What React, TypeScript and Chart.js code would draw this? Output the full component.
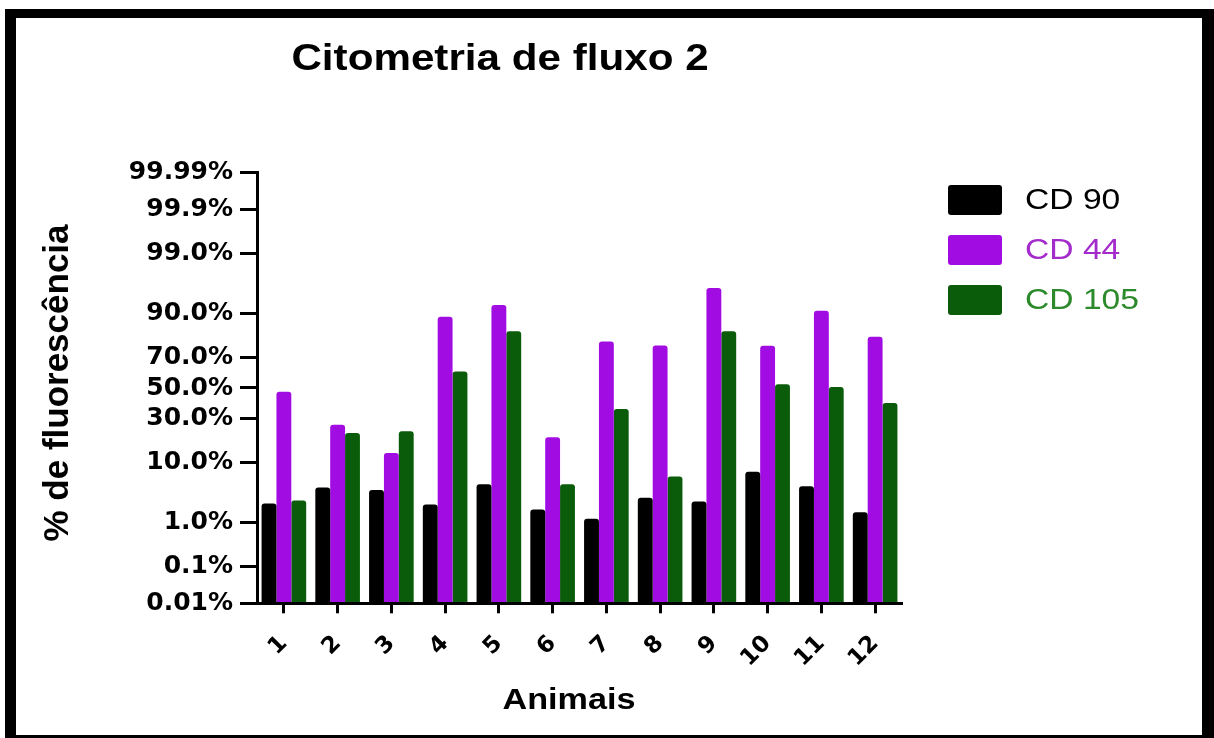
import React, { useEffect, useRef } from 'react';
import { Chart, registerables, Scale } from 'chart.js';

const TITLE = 'Citometria de fluxo 2';
const X_TITLE = 'Animais';
const Y_TITLE = '% de fluorescência';

const ANIMALS = ['1', '2', '3', '4', '5', '6', '7', '8', '9', '10', '11', '12'];
const SERIES_NAMES = ['CD 90', 'CD 44', 'CD 105'];

// values in percent
const CD90 = [2.3, 4.3, 3.9, 2.2, 4.8, 1.8, 1.2, 2.9, 2.5, 7.4, 4.5, 1.6];
const CD44 = [47.5, 26.3, 13.1, 89.1, 92.4, 19.7, 78.9, 76.9, 95.8, 76.7, 90.9, 81.2];
const CD105 = [2.6, 21.9, 22.7, 61.3, 83.7, 4.8, 35.9, 6.3, 83.7, 52.5, 50.7, 39.8];

const Y_TICK_VALUES = [0.01, 0.1, 1, 10, 30, 50, 70, 90, 99, 99.9, 99.99];
const Y_TICK_LABELS = ['0.01%', '0.1%', '1.0%', '10.0%', '30.0%', '50.0%', '70.0%', '90.0%', '99.0%', '99.9%', '99.99%'];

const BAR_COLORS = ['#000000', '#A10CE2', '#0A5C0A'];
const LEGEND_TEXT_COLORS = ['#000000', '#A42BCB', '#2C8A2C'];

// inverse normal CDF (Acklam)
function probit(p: number): number {
  const a = [-3.969683028665376e1, 2.209460984245205e2, -2.759285104469687e2, 1.38357751867269e2, -3.066479806614716e1, 2.506628277459239];
  const b = [-5.447609879822406e1, 1.615858368580409e2, -1.556989798598866e2, 6.680131188771972e1, -1.328068155288572e1];
  const c = [-7.784894002430293e-3, -3.223964580411365e-1, -2.400758277161838, -2.549732539343734, 4.374664141464968, 2.938163982698783];
  const d = [7.784695709041462e-3, 3.224671290700398e-1, 2.445134137142996, 3.754408661907416];
  const pl = 0.02425;
  const ph = 1 - pl;
  if (p < pl) {
    const q = Math.sqrt(-2 * Math.log(p));
    return (((((c[0] * q + c[1]) * q + c[2]) * q + c[3]) * q + c[4]) * q + c[5]) / ((((d[0] * q + d[1]) * q + d[2]) * q + d[3]) * q + 1);
  }
  if (p <= ph) {
    const q = p - 0.5;
    const r = q * q;
    return ((((((a[0] * r + a[1]) * r + a[2]) * r + a[3]) * r + a[4]) * r + a[5]) * q) / (((((b[0] * r + b[1]) * r + b[2]) * r + b[3]) * r + b[4]) * r + 1);
  }
  const q = Math.sqrt(-2 * Math.log(1 - p));
  return -(((((c[0] * q + c[1]) * q + c[2]) * q + c[3]) * q + c[4]) * q + c[5]) / ((((d[0] * q + d[1]) * q + d[2]) * q + d[3]) * q + 1);
}

function normCdf(z: number): number {
  const t = 1 / (1 + 0.2316419 * Math.abs(z));
  const dd = 0.3989423 * Math.exp((-z * z) / 2);
  const p = dd * t * (0.3193815 + t * (-0.3565638 + t * (1.781478 + t * (-1.821256 + t * 1.330274))));
  return z > 0 ? 1 - p : p;
}

class ProbitScale extends Scale {
  static id = 'probit';
  static defaults = {};
  zLo = 0;
  zHi = 1;
  determineDataLimits() {
    const o: any = this.options;
    this.min = o.min ?? 0.01;
    this.max = o.max ?? 99.99;
  }
  buildTicks() {
    return Y_TICK_VALUES.map((v) => ({ value: v }));
  }
  getLabelForValue(v: number) {
    return String(v);
  }
  configure() {
    super.configure();
    this.zLo = probit(this.min / 100);
    this.zHi = probit(this.max / 100);
  }
  getPixelForValue(value: number) {
    if (value === null || value === undefined || isNaN(value)) return NaN;
    const v = Math.min(Math.max(value, this.min), this.max);
    return this.getPixelForDecimal((probit(v / 100) - this.zLo) / (this.zHi - this.zLo));
  }
  getPixelForTick(i: number) {
    const t = this.ticks[i];
    return t ? this.getPixelForValue(t.value) : NaN;
  }
  getValueForPixel(px: number) {
    const dec = this.getDecimalForPixel(px);
    return 100 * normCdf(this.zLo + dec * (this.zHi - this.zLo));
  }
}

Chart.register(...registerables, ProbitScale as any);

const SX = 1.14; // horizontal stretch of the reference's lettering

function stretchedText(ctx: CanvasRenderingContext2D, text: string, x: number, y: number, align: CanvasTextAlign) {
  ctx.save();
  ctx.translate(x, y);
  ctx.scale(SX, 1);
  ctx.textAlign = align;
  ctx.fillText(text, 0, 0);
  ctx.restore();
}

const textPlugin = {
  id: 'customTexts',
  afterDraw(chart: any) {
    const ctx = chart.ctx as CanvasRenderingContext2D;
    ctx.save();
    ctx.fillStyle = '#000';
    ctx.textBaseline = 'middle';
    ctx.font = 'bold 37px "Liberation Sans"';
    stretchedText(ctx, TITLE, 500, 60, 'center');
    ctx.font = 'bold 30px "Liberation Sans"';
    stretchedText(ctx, X_TITLE, 569, 701, 'center');

    // y title, rotated
    ctx.save();
    ctx.translate(58, 383);
    ctx.rotate(-Math.PI / 2);
    ctx.font = 'bold 35px "Liberation Sans"';
    ctx.textAlign = 'center';
    ctx.fillText(Y_TITLE, 0, 0);
    ctx.restore();

    // legend
    chart.data.datasets.forEach((ds: any, i: number) => {
      const y = 185 + 50 * i;
      ctx.fillStyle = ds.backgroundColor;
      ctx.beginPath();
      (ctx as any).roundRect(948, y, 54, 30, 3);
      ctx.fill();
      ctx.fillStyle = LEGEND_TEXT_COLORS[i];
      ctx.font = '29.5px "Liberation Sans"';
      stretchedText(ctx, ds.label, 1025, y + 16, 'left');
    });
    ctx.restore();
  },
};

export default function App() {
  const ref = useRef<HTMLCanvasElement>(null);
  useEffect(() => {
    if (!ref.current) return;
    const series = [CD90, CD44, CD105];
    const chart = new Chart(ref.current, {
      type: 'bar',
      data: {
        labels: ANIMALS,
        datasets: series.map((data, i) => ({
          label: SERIES_NAMES[i],
          data,
          backgroundColor: BAR_COLORS[i],
          borderWidth: 0,
          borderRadius: 3,
          borderSkipped: 'start',
          barPercentage: 1,
          categoryPercentage: 0.83,
        })),
      },
      options: {
        responsive: false,
        animation: false,
        events: [],
        layout: { padding: { left: 0, right: 1214 - 902, top: 172.7, bottom: 0 } },
        plugins: {
          legend: { display: false },
          title: { display: false },
          tooltip: { enabled: false },
        },
        scales: {
          x: {
            type: 'category',
            offset: true,
            grid: { display: true, offset: false, drawOnChartArea: false, drawTicks: true, tickLength: 10, tickWidth: 3, tickColor: '#000' },
            border: { display: true, color: '#000', width: 3, z: 1 },
            ticks: {
              color: '#000',
              font: { family: 'DejaVu Sans', weight: 'bold', size: 23 },
              minRotation: 45,
              maxRotation: 45,
              padding: 17,
              autoSkip: false,
            },
            afterFit: (s: any) => {
              s.height = 738 - 603.3;
            },
          },
          y: {
            type: 'probit' as any,
            position: 'left',
            min: 0.01,
            max: 99.99,
            grid: { display: true, drawOnChartArea: false, drawTicks: true, tickLength: 17, tickWidth: 3, tickColor: '#000' },
            border: { display: true, color: '#000', width: 3, z: 1 },
            ticks: {
              color: '#000',
              font: { family: 'DejaVu Sans', weight: 'bold', size: 25 },
              padding: 7,
              autoSkip: false,
              callback: (_v: any, i: number) => Y_TICK_LABELS[i],
            },
            afterFit: (s: any) => {
              s.width = 257;
            },
          } as any,
        },
      },
      plugins: [textPlugin],
    });
    return () => chart.destroy();
  }, []);

  return (
    <div style={{ position: 'fixed', left: 0, top: 0, width: 1214, height: 738, background: '#fff' }}>
      <canvas ref={ref} width={1214} height={738} style={{ position: 'absolute', left: 0, top: 0 }} />
      <div
        style={{
          position: 'absolute',
          left: 5,
          top: 9,
          width: 1209,
          height: 729,
          boxSizing: 'border-box',
          borderStyle: 'solid',
          borderColor: '#000',
          borderTopWidth: 9,
          borderLeftWidth: 11,
          borderRightWidth: 12,
          borderBottomWidth: 3,
          pointerEvents: 'none',
        }}
      />
    </div>
  );
}
